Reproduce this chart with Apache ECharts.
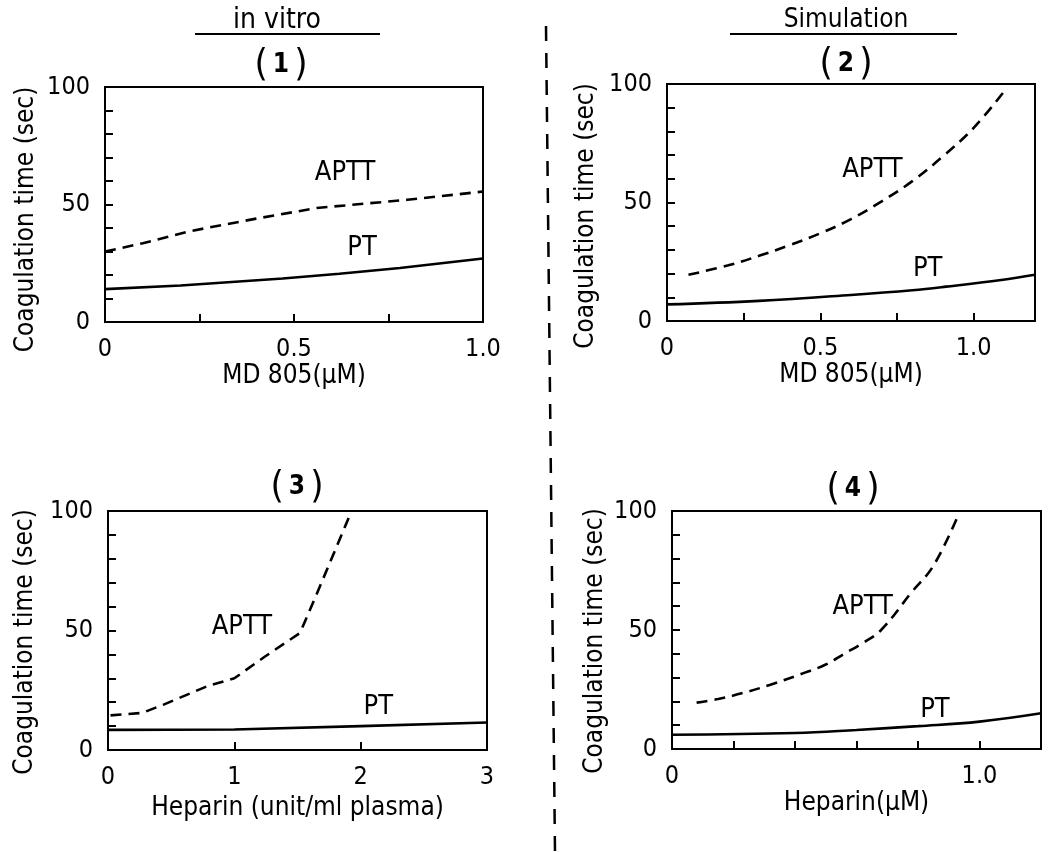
<!DOCTYPE html>
<html>
<head>
<meta charset="utf-8">
<script src="https://cdn.jsdelivr.net/npm/echarts@6/dist/echarts.min.js"></script>
<style>
html, body { margin: 0; padding: 0; background: #fff; }
#chart_1 { width: 1055px; height: 852px; }
</style>
</head>
<body>
<div id="chart_1"></div>
<script>
// panel (1) in vitro, MD 805
var aptt1 = [[0, 30], [0.1, 33.5], [0.22, 38.5], [0.4, 44], [0.56, 48.5], [0.8, 52], [1.0, 55.5]];
var pt1 = [[0, 14], [0.2, 15.5], [0.47, 18.5], [0.62, 20.5], [0.78, 23], [1.0, 27]];
// panel (2) simulation, MD 805
var aptt2 = [[0.07, 19.5], [0.2, 23.5], [0.3, 27.5], [0.4, 32], [0.5, 37], [0.6, 43], [0.7, 50.5], [0.8, 59], [0.9, 69.5], [1.0, 81.5], [1.1, 97]];
var pt2 = [[0, 7], [0.3, 8.5], [0.6, 11], [0.8, 13], [0.91, 14.5], [1.09, 17.3], [1.2, 19.5]];
// panel (3) in vitro, heparin
var aptt3 = [[0.02, 14.5], [0.27, 15.5], [0.44, 19], [0.8, 27], [1.0, 30], [1.24, 39], [1.52, 49], [1.65, 65], [1.92, 99]];
var pt3 = [[0, 8.4], [1, 8.6], [2, 10], [3, 11.5]];
// panel (4) simulation, heparin
var aptt4 = [[0.08, 19.5], [0.15, 21], [0.23, 23.5], [0.32, 27], [0.42, 31.5], [0.5, 35.5], [0.56, 40], [0.62, 44.5], [0.68, 50], [0.78, 66], [0.85, 77], [0.93, 98]];
var pt4 = [[0, 6], [0.4, 6.7], [0.6, 8], [0.8, 9.6], [1.0, 11.5], [1.2, 15]];

// curve labels (APTT, PT) in data units
var tags1 = [{ name: 'APTT', value: [0.635, 63.5] }, { name: 'PT', value: [0.68, 31.5] }];
var tags2 = [{ name: 'APTT', value: [0.67, 63.7] }, { name: 'PT', value: [0.85, 22] }];
var tags3 = [{ name: 'APTT', value: [1.06, 51.5] }, { name: 'PT', value: [2.14, 18] }];
var tags4 = [{ name: 'APTT', value: [0.62, 59.7] }, { name: 'PT', value: [0.855, 16.4] }];

var yTickLabels = [0, 50, 100];
var xTickLabels1 = ['0', '0.5', '1.0'];
var xTickLabels2 = ['0', '0.5', '1.0'];
var xTickLabels3 = ['0', '1', '2', '3'];
var xTickLabels4 = ['0', '1.0'];

var yName = 'Coagulation time (sec)';
var FONT = '"DejaVu Sans Condensed", "Liberation Sans Narrow", "DejaVu Sans"';

function fmtX(list) {
	return function (v) {
		for (var i = 0; i < list.length; i++) {
			if (Math.abs(parseFloat(list[i]) - v) < 1e-6) return list[i];
		}
		return '';
	};
}

var grids = [], xAxes = [], yAxes = [], series = [];

function addPanel(box, xMax, xStep, xLabels, xName, xGap, yGap, yShift, aptt, pt, tags, smooth) {
	var idx = grids.length;
	grids.push({
		left: box[0], top: box[1], width: box[2], height: box[3],
		show: true, borderColor: '#000', borderWidth: 2, backgroundColor: 'transparent'
	});
	xAxes.push({
		gridIndex: idx, type: 'value', min: 0, max: xMax, interval: xStep,
		name: xName, nameLocation: 'middle', nameGap: xGap,
		nameTextStyle: { color: '#000', fontSize: 26, fontFamily: FONT },
		axisLine: { show: true, lineStyle: { color: '#000', width: 2 } },
		axisTick: { show: true, inside: true, length: 8, lineStyle: { color: '#000', width: 2 } },
		axisLabel: { color: '#000', fontSize: 25, fontFamily: FONT, margin: 15, formatter: fmtX(xLabels), showMaxLabel: true },
		splitLine: { show: false }
	});
	yAxes.push({
		gridIndex: idx, type: 'value', min: 0, max: 100, interval: 10,
		name: yName, nameLocation: 'middle', nameGap: yGap, nameRotate: 90,
		nameTextStyle: { color: '#000', fontSize: 26, fontFamily: FONT, padding: [0, yShift, 0, 0] },
		axisLine: { show: true, lineStyle: { color: '#000', width: 2 } },
		axisTick: { show: true, inside: true, length: 8, lineStyle: { color: '#000', width: 2 } },
		axisLabel: {
			color: '#000', fontSize: 25, fontFamily: FONT, margin: 15,
			formatter: function (v) { return yTickLabels.indexOf(v) >= 0 ? String(v) : ''; }
		},
		splitLine: { show: false }
	});
	series.push({
		type: 'line', xAxisIndex: idx, yAxisIndex: idx, data: aptt, smooth: smooth,
		showSymbol: false, lineStyle: { color: '#000', width: 2.6, type: [11, 7] }, silent: true
	});
	series.push({
		type: 'line', xAxisIndex: idx, yAxisIndex: idx, data: pt, smooth: smooth,
		showSymbol: false, lineStyle: { color: '#000', width: 2.6 }, silent: true
	});
	series.push({
		type: 'scatter', xAxisIndex: idx, yAxisIndex: idx, data: tags, symbolSize: 1,
		itemStyle: { color: 'rgba(0,0,0,0)', opacity: 1 }, silent: true,
		label: {
			show: true, position: 'inside', formatter: '{b}', color: '#000', opacity: 1,
			textBorderWidth: 0, fontSize: 27, fontFamily: FONT
		}
	});
}

addPanel([105, 87, 378, 235], 1.0, 0.25, xTickLabels1, 'MD 805(μM)', 40, 66, 30, aptt1, pt1, tags1, false);
addPanel([667, 84, 368, 237], 1.2, 0.25, xTickLabels2, 'MD 805(μM)', 39, 68, 27, aptt2, pt2, tags2, 0.4);
addPanel([108, 511, 379, 239], 3, 1, xTickLabels3, 'Heparin (unit/ml plasma)', 45, 70, 23, aptt3, pt3, tags3, false);
addPanel([672, 511, 369, 238], 1.2, 0.2, xTickLabels4, 'Heparin(μM)', 38, 64, 22, aptt4, pt4, tags4, 0.4);

function head(x, y, num) {
	return {
		type: 'text', x: x, y: y, silent: true,
		style: {
			text: '{p|(}{n|' + num + '}{p|)}', align: 'center', verticalAlign: 'middle',
			rich: {
				p: { fontSize: 38, fontFamily: FONT, fill: '#000', padding: [0, 5, 0, 5] },
				n: { fontSize: 26, fontFamily: FONT, fontWeight: 'bold', fill: '#000' }
			}
		}
	};
}

var graphics = [
	{ type: 'text', x: 277, y: 21, silent: true, style: { text: 'in vitro', fontSize: 28, fontFamily: FONT, fill: '#000', align: 'center', verticalAlign: 'middle' } },
	{ type: 'line', silent: true, shape: { x1: 195, y1: 34, x2: 380, y2: 34 }, style: { stroke: '#000', lineWidth: 2 } },
	{ type: 'text', x: 846, y: 20, silent: true, style: { text: 'Simulation', fontSize: 26, fontFamily: FONT, fill: '#000', align: 'center', verticalAlign: 'middle' } },
	{ type: 'line', silent: true, shape: { x1: 730, y1: 34, x2: 957, y2: 34 }, style: { stroke: '#000', lineWidth: 2 } },
	head(281, 65, '1'),
	head(846, 64, '2'),
	head(297, 487, '3'),
	head(853, 489, '4'),
	{ type: 'line', silent: true, shape: { x1: 546, y1: 26, x2: 555, y2: 852 }, style: { stroke: '#000', lineWidth: 2.5, lineDash: [15, 12] } }
];

var option = {
	animation: false,
	backgroundColor: '#fff',
	grid: grids,
	xAxis: xAxes,
	yAxis: yAxes,
	series: series,
	graphic: graphics
};

var myChart = echarts.init(document.getElementById('chart_1'));
myChart.setOption(option);
</script>
</body>
</html>
